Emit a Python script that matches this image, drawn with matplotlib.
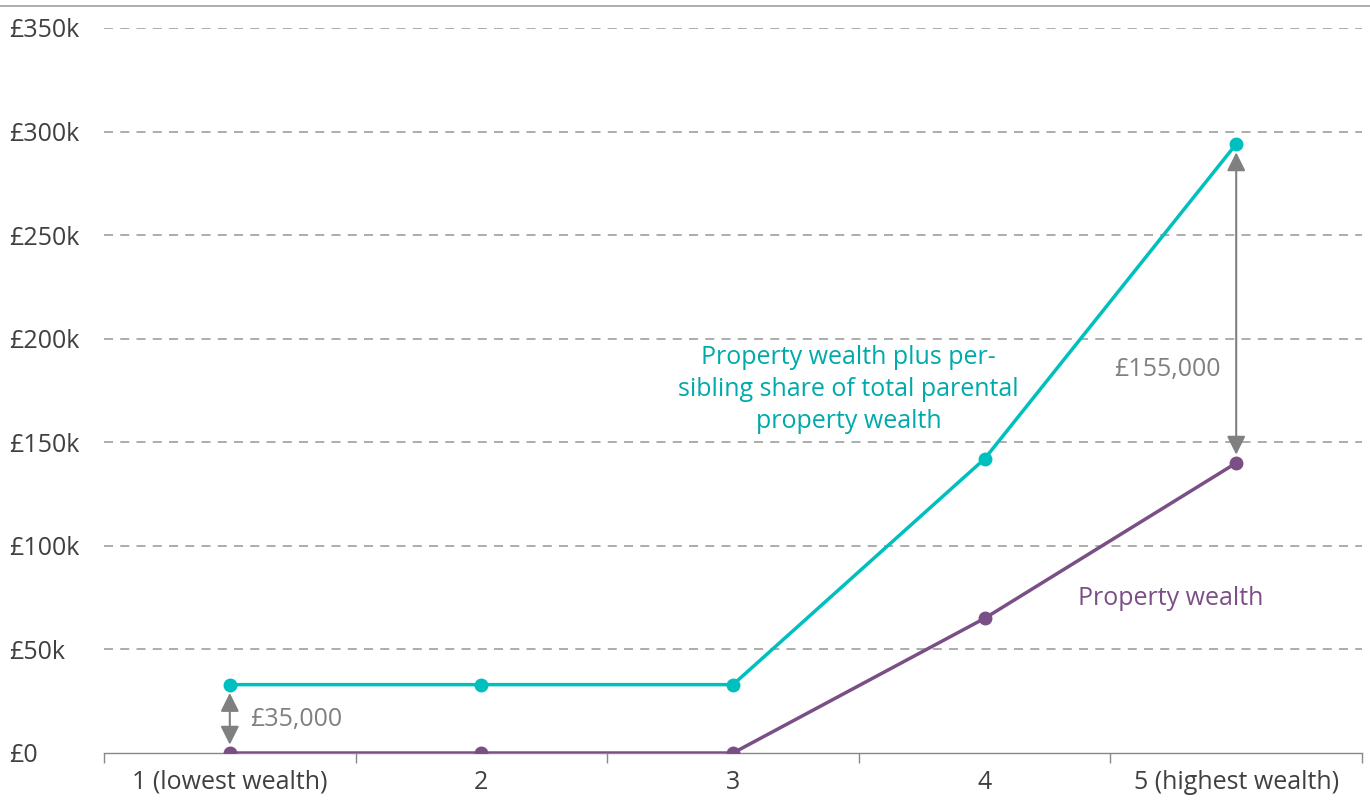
import numpy as np
import matplotlib.pyplot as plt
from matplotlib.lines import Line2D

plt.rcParams['font.family'] = ['Open Sans', 'DejaVu Sans']

# data
categories = ['1 (lowest wealth)', '2', '3', '4', '5 (highest wealth)']
property_plus_share = [33000, 33000, 33000, 142000, 294000]
property_wealth = [0, 0, 0, 65000, 140000]
y_ticks = [0, 50000, 100000, 150000, 200000, 250000, 300000, 350000]
y_labels = ['£0', '£50k', '£100k', '£150k', '£200k', '£250k', '£300k', '£350k']

teal = '#00BFBF'
purple = '#7A4F86'
grey = '#808080'
fs = 18

fig = plt.figure(figsize=(13.7, 8.01), dpi=100)
ax = fig.add_axes([104 / 1370, 48 / 801, 1258 / 1370, 725 / 801])

x = np.arange(len(categories))
ax.plot(x, property_plus_share, color=teal, linewidth=2.5, marker='o', markersize=9, zorder=4)
ax.plot(x, property_wealth, color=purple, linewidth=2.5, marker='o', markersize=9, zorder=4)

ax.set_xlim(-0.5, len(categories) - 0.5)
ax.set_ylim(0, 350000)

# y axis
ax.set_yticks(y_ticks)
ax.set_yticklabels(y_labels)
for yv in y_ticks[1:]:
    ax.axhline(yv, color='#a6a6a6', linewidth=1.3, linestyle=(0, (5, 4)), zorder=1)

# x axis
ax.set_xticks(x)
ax.set_xticklabels(categories)
ax.set_xticks(np.arange(-0.5, len(categories), 1), minor=True)
ax.tick_params(axis='x', which='major', length=0, pad=12, labelsize=fs, labelcolor='#404040')
ax.tick_params(axis='x', which='minor', length=7, color='#888888', width=1)
ax.tick_params(axis='y', length=0, pad=68, labelsize=fs, labelcolor='#404040')
for lab in ax.get_yticklabels():
    lab.set_horizontalalignment('left')

for side in ['top', 'right', 'left']:
    ax.spines[side].set_visible(False)
ax.spines['bottom'].set_color('#888888')
ax.spines['bottom'].set_linewidth(1)

# gap arrows
arrow_style = dict(arrowstyle='<|-|>', color=grey, linewidth=1.5, mutation_scale=28,
                   shrinkA=6, shrinkB=6)
ax.annotate('', xy=(0, property_wealth[0]), xytext=(0, property_plus_share[0]),
            arrowprops=arrow_style, zorder=3)
ax.annotate('', xy=(4, property_wealth[4]), xytext=(4, property_plus_share[4]),
            arrowprops=arrow_style, zorder=3)
ax.text(0.08, 16000, '£35,000', color=grey, fontsize=fs, va='center', ha='left')
ax.text(3.94, 185000, '£155,000', color=grey, fontsize=fs, va='center', ha='right')

# series labels
ax.text(2.46, 175500, 'Property wealth plus per-\nsibling share of total parental\nproperty wealth',
        color='#00AAAA', fontsize=fs, ha='center', va='center', linespacing=1.36)
ax.text(3.74, 74500, 'Property wealth', color=purple, fontsize=fs, ha='center', va='center')

# top rule
fig.add_artist(Line2D([0, 1], [1 - 6 / 801, 1 - 6 / 801], color='#a0a0a0', linewidth=1.2))

fig.savefig('out.png', dpi=100)
